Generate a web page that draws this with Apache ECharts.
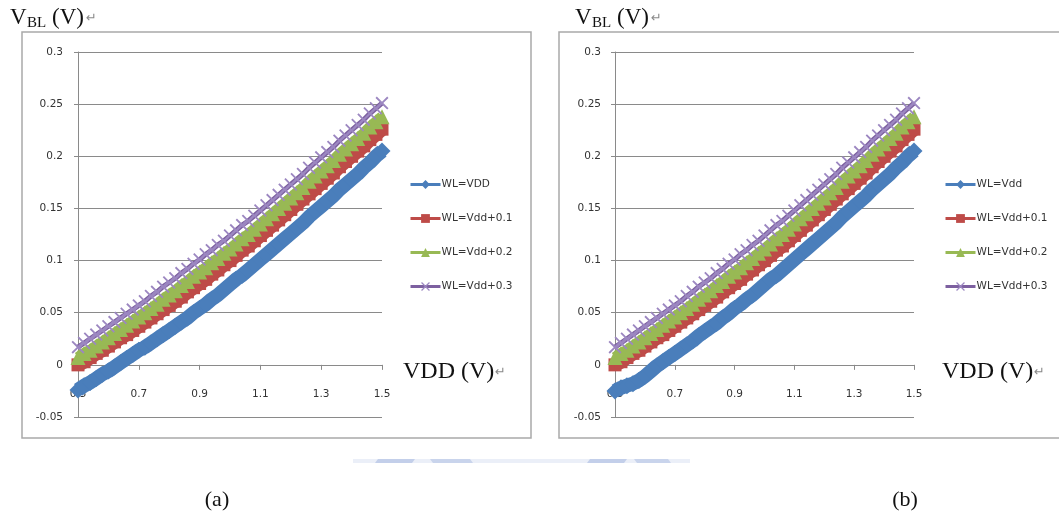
<!DOCTYPE html>
<html>
<head>
<meta charset="utf-8">
<script src="https://cdn.jsdelivr.net/npm/echarts@6/dist/echarts.min.js"></script>
<style>
  html, body { margin: 0; padding: 0; background: #ffffff; }
  #chart { width: 1059px; height: 517px; }
</style>
</head>
<body>
<div id="chart"></div>
<script>
// Supply voltage sweep (V)
const vdd = [
  0.50, 0.52, 0.54, 0.56, 0.58, 0.60, 0.62, 0.64, 0.66, 0.68,
  0.70, 0.72, 0.74, 0.76, 0.78, 0.80, 0.82, 0.84, 0.86, 0.88,
  0.90, 0.92, 0.94, 0.96, 0.98, 1.00, 1.02, 1.04, 1.06, 1.08,
  1.10, 1.12, 1.14, 1.16, 1.18, 1.20, 1.22, 1.24, 1.26, 1.28,
  1.30, 1.32, 1.34, 1.36, 1.38, 1.40, 1.42, 1.44, 1.46, 1.48, 1.50
];

// Bit-line voltage (V), panel (a), WL = VDD
const vblA_wl0 = [
  -0.024, -0.020, -0.017, -0.013, -0.009, -0.006, -0.002, 0.002, 0.006, 0.010,
  0.014, 0.017, 0.021, 0.025, 0.029, 0.033, 0.037, 0.041, 0.045, 0.050,
  0.054, 0.058, 0.063, 0.067, 0.072, 0.077, 0.082, 0.086, 0.091, 0.096,
  0.101, 0.106, 0.111, 0.116, 0.121, 0.126, 0.131, 0.136, 0.142, 0.147,
  0.152, 0.157, 0.162, 0.168, 0.173, 0.178, 0.183, 0.189, 0.194, 0.200, 0.205
];

// Bit-line voltage (V), panel (b), WL = Vdd
const vblB_wl0 = [
  -0.025, -0.022, -0.020, -0.018, -0.015, -0.011, -0.006, -0.001, 0.003, 0.007,
  0.011, 0.015, 0.019, 0.023, 0.028, 0.032, 0.036, 0.040, 0.045, 0.049,
  0.054, 0.058, 0.063, 0.067, 0.072, 0.077, 0.082, 0.086, 0.091, 0.096,
  0.101, 0.106, 0.111, 0.116, 0.121, 0.126, 0.131, 0.136, 0.142, 0.147,
  0.152, 0.157, 0.162, 0.168, 0.173, 0.178, 0.183, 0.189, 0.194, 0.200, 0.205
];

// WL = Vdd + 0.1
const vbl_wl1 = [
  0.000, 0.003, 0.007, 0.011, 0.014, 0.018, 0.022, 0.026, 0.029, 0.033,
  0.037, 0.041, 0.045, 0.049, 0.053, 0.057, 0.061, 0.065, 0.070, 0.074,
  0.078, 0.082, 0.087, 0.091, 0.096, 0.100, 0.105, 0.110, 0.114, 0.119,
  0.124, 0.129, 0.134, 0.139, 0.144, 0.149, 0.154, 0.159, 0.164, 0.169,
  0.174, 0.179, 0.184, 0.190, 0.195, 0.200, 0.205, 0.210, 0.216, 0.221, 0.226
];

// WL = Vdd + 0.2
const vbl_wl2 = [
  0.007, 0.011, 0.014, 0.018, 0.022, 0.026, 0.030, 0.034, 0.038, 0.042,
  0.046, 0.050, 0.054, 0.058, 0.063, 0.067, 0.071, 0.076, 0.080, 0.085,
  0.089, 0.093, 0.098, 0.102, 0.107, 0.111, 0.116, 0.121, 0.125, 0.130,
  0.135, 0.140, 0.145, 0.150, 0.155, 0.160, 0.165, 0.170, 0.176, 0.181,
  0.186, 0.191, 0.196, 0.202, 0.207, 0.212, 0.217, 0.222, 0.228, 0.233, 0.238
];

// WL = Vdd + 0.3
const vbl_wl3 = [
  0.017, 0.021, 0.025, 0.029, 0.033, 0.037, 0.041, 0.045, 0.049, 0.053,
  0.057, 0.061, 0.066, 0.070, 0.075, 0.079, 0.083, 0.088, 0.092, 0.097,
  0.101, 0.106, 0.110, 0.115, 0.119, 0.124, 0.129, 0.134, 0.138, 0.143,
  0.148, 0.153, 0.158, 0.163, 0.168, 0.173, 0.178, 0.183, 0.189, 0.194,
  0.199, 0.204, 0.209, 0.215, 0.220, 0.225, 0.230, 0.235, 0.241, 0.246, 0.251
];

const namesA = ['WL=VDD', 'WL=Vdd+0.1', 'WL=Vdd+0.2', 'WL=Vdd+0.3'];
const namesB = ['WL=Vdd', 'WL=Vdd+0.1', 'WL=Vdd+0.2', 'WL=Vdd+0.3'];

const xTickLabels = ['0.5', '0.7', '0.9', '1.1', '1.3', '1.5'];
const yTickLabels = ['-0.05', '0', '0.05', '0.1', '0.15', '0.2', '0.25', '0.3'];

// x axis is laid out from 0.5 V: positions are VDD - X_START
const X_START = 0.5;
const Y_MIN = -0.05, Y_MAX = 0.3;
const GRID_TOP = 52, GRID_H = 365;
// lift the VDD axis from the grid bottom up to the 0 V line
const ZERO_OFFSET = -GRID_H * (0 - Y_MIN) / (Y_MAX - Y_MIN);

const AXIS_GRAY = '#8a8a8a';
const TICK_FONT = { fontFamily: 'DejaVu Sans', fontSize: 10.5, color: '#333333' };

// marker shapes: diamond, square, triangle, cross
const CROSS = 'path://M0,1 L1,0 L5,4 L9,0 L10,1 L6,5 L10,9 L9,10 L5,6 L1,10 L0,9 L4,5 Z';
const styles = [
  { color: '#4a7ebb', symbol: 'diamond', size: 17, line: '#4a7ebb', width: 14 },
  { color: '#be4b48', symbol: 'rect', size: 13, line: '#be4b48', width: 14 },
  { color: '#98b954', symbol: 'triangle', size: 15, line: '#98b954', width: 11 },
  { color: '#9c87c1', symbol: CROSS, size: 13, line: '#7d60a0', width: 5 }
];

function lineSeries(name, ys, k, gi) {
  const st = styles[k];
  return {
    type: 'line',
    name: name,
    xAxisIndex: gi,
    yAxisIndex: gi,
    data: vdd.map((v, i) => [v - X_START, ys[i]]),
    symbol: st.symbol,
    symbolSize: st.size,
    showSymbol: true,
    showAllSymbol: true,
    clip: false,
    lineStyle: { color: st.line, width: st.width, join: 'round' },
    itemStyle: { color: st.color },
    emphasis: { disabled: true },
    animation: false,
    z: 3
  };
}

function xAxisCfg(gi) {
  return {
    type: 'value',
    gridIndex: gi,
    min: 0,
    max: 1,
    interval: 0.2,
    offset: ZERO_OFFSET,
    axisLine: { show: true, onZero: false, lineStyle: { color: AXIS_GRAY, width: 1 } },
    axisTick: { show: true, length: 5, lineStyle: { color: AXIS_GRAY } },
    axisLabel: Object.assign({
      margin: 24,
      formatter: v => xTickLabels[Math.round(v / 0.2)]
    }, TICK_FONT),
    splitLine: { show: false }
  };
}

function yAxisCfg(gi, margin) {
  return {
    type: 'value',
    gridIndex: gi,
    min: Y_MIN,
    max: Y_MAX,
    interval: 0.05,
    axisLine: { show: true, lineStyle: { color: AXIS_GRAY, width: 1 } },
    axisTick: { show: true, length: 4, lineStyle: { color: AXIS_GRAY } },
    axisLabel: Object.assign({
      margin: margin,
      formatter: v => yTickLabels[Math.round((v - Y_MIN) / 0.05)]
    }, TICK_FONT),
    splitLine: { show: true, lineStyle: { color: AXIS_GRAY, width: 1 } }
  };
}

function legendCfg(names, left) {
  return {
    data: names,
    orient: 'vertical',
    left: left,
    top: 174,
    itemWidth: 30,
    itemHeight: 11,
    itemGap: 23,
    selectedMode: false,
    lineStyle: { width: 3 },
    textStyle: { fontFamily: 'DejaVu Sans', fontSize: 10.5, color: '#333333', padding: [0, 0, 0, -4] }
  };
}

const serif = 'Liberation Serif';
function axisTitle(x, y) {
  // V_BL (V) with the paragraph mark
  return [
    { type: 'text', x: x, y: y, style: { text: 'V', font: '23px "' + serif + '"', fill: '#111', verticalAlign: 'middle' } },
    { type: 'text', x: x + 17, y: y + 5, style: { text: 'BL', font: '15px "' + serif + '"', fill: '#111', verticalAlign: 'middle' } },
    { type: 'text', x: x + 42, y: y, style: { text: '(V)', font: '23px "' + serif + '"', fill: '#111', verticalAlign: 'middle' } },
    { type: 'text', x: x + 76, y: y + 1, style: { text: '\u21b5', font: '13px "DejaVu Sans"', fill: '#8a8a8a', verticalAlign: 'middle' } }
  ];
}
function vddTitle(x, y) {
  return [
    { type: 'text', x: x, y: y, style: { text: 'VDD (V)', font: '24px "' + serif + '"', fill: '#111', verticalAlign: 'middle' } },
    { type: 'text', x: x + 92, y: y + 1, style: { text: '\u21b5', font: '13px "DejaVu Sans"', fill: '#8a8a8a', verticalAlign: 'middle' } }
  ];
}

const graphics = [
  // chart frames
  { type: 'rect', shape: { x: 22, y: 32, width: 509, height: 406 }, style: { fill: 'none', stroke: '#a9a9a9', lineWidth: 1.5 }, z: 0 },
  { type: 'rect', shape: { x: 559, y: 32, width: 520, height: 406 }, style: { fill: 'none', stroke: '#a9a9a9', lineWidth: 1.5 }, z: 0 },
  // faint emblem edge under the frames
  { type: 'rect', shape: { x: 353, y: 459, width: 337, height: 4 }, style: { fill: 'rgba(205,216,238,0.4)' }, z: 0 },
  { type: 'polygon', shape: { points: [[378, 459], [415, 459], [412, 463], [375, 463]] }, style: { fill: '#c3cfea' }, z: 0 },
  { type: 'polygon', shape: { points: [[430, 459], [470, 459], [473, 463], [433, 463]] }, style: { fill: '#c9d4ec' }, z: 0 },
  { type: 'polygon', shape: { points: [[590, 459], [627, 459], [624, 463], [587, 463]] }, style: { fill: '#c3cfea' }, z: 0 },
  { type: 'polygon', shape: { points: [[634, 459], [668, 459], [671, 463], [637, 463]] }, style: { fill: '#c9d4ec' }, z: 0 },
  // sub-figure captions
  { type: 'text', x: 217, y: 500, style: { text: '(a)', font: '22px "' + serif + '"', fill: '#111', align: 'center', verticalAlign: 'middle' } },
  { type: 'text', x: 905, y: 500, style: { text: '(b)', font: '22px "' + serif + '"', fill: '#111', align: 'center', verticalAlign: 'middle' } }
].concat(axisTitle(10, 18), axisTitle(575, 18), vddTitle(403, 372), vddTitle(942, 372));

const series = [
  lineSeries(namesA[0], vblA_wl0, 0, 0),
  lineSeries(namesA[1], vbl_wl1, 1, 0),
  lineSeries(namesA[2], vbl_wl2, 2, 0),
  lineSeries(namesA[3], vbl_wl3, 3, 0),
  lineSeries(namesB[0], vblB_wl0, 0, 1),
  lineSeries(namesB[1], vbl_wl1, 1, 1),
  lineSeries(namesB[2], vbl_wl2, 2, 1),
  lineSeries(namesB[3], vbl_wl3, 3, 1)
];

const chart = echarts.init(document.getElementById('chart'), null, { renderer: 'canvas' });
chart.setOption({
  backgroundColor: '#ffffff',
  animation: false,
  grid: [
    { left: 78, top: GRID_TOP, width: 304, height: GRID_H },
    { left: 615, top: GRID_TOP, width: 299, height: GRID_H }
  ],
  xAxis: [xAxisCfg(0), xAxisCfg(1)],
  yAxis: [yAxisCfg(0, 15), yAxisCfg(1, 14)],
  legend: [legendCfg(namesA, 404), legendCfg(namesB, 939)],
  graphic: graphics,
  series: series
});
</script>
</body>
</html>
